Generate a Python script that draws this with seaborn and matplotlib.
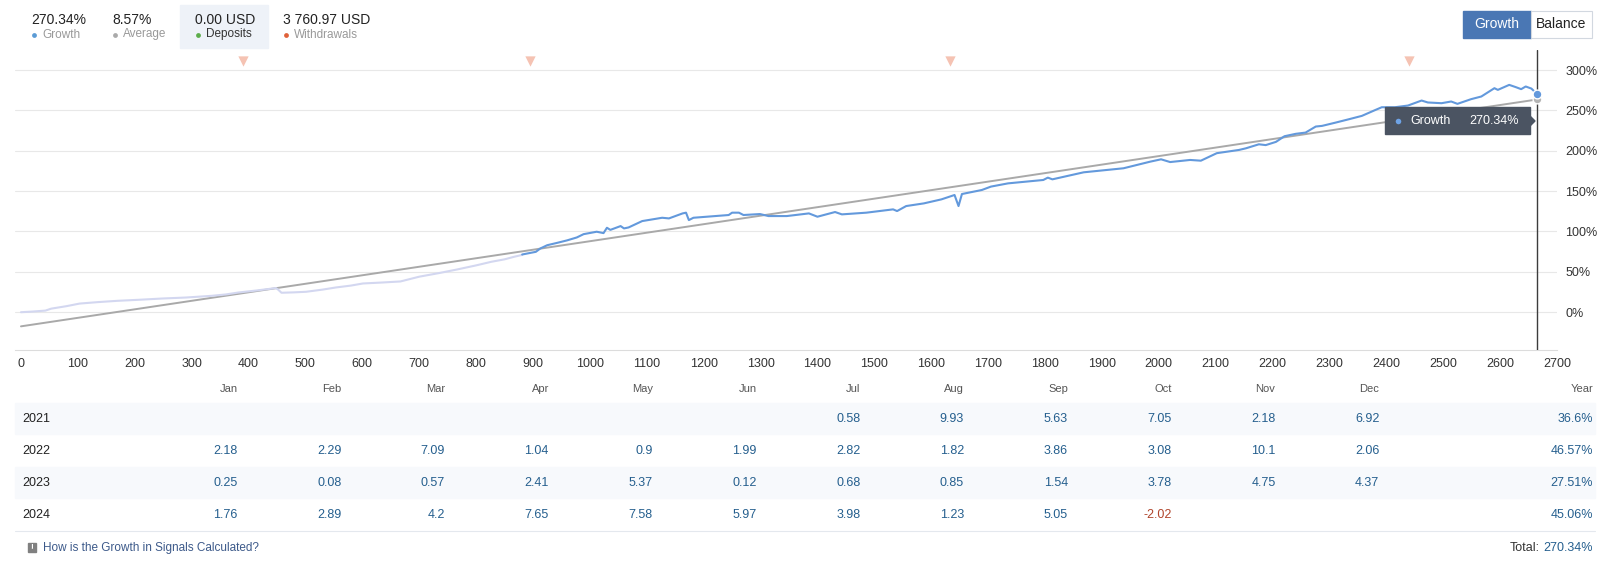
import numpy as np
import pandas as pd
import matplotlib
matplotlib.use("Agg")
import matplotlib.pyplot as plt
import seaborn as sns
from matplotlib.patches import Rectangle, Polygon
from matplotlib.transforms import blended_transform_factory

# ---------------- data ----------------
early_x = [0, 20, 43, 53, 80, 103, 135, 169, 210, 249, 290, 335, 360, 382, 415, 448, 452, 458,
           480, 501, 530, 554, 580, 601, 635, 667, 700, 735, 767, 800, 827, 850, 867, 881]
early_y = [0.0, 0.8, 2.0, 4.4, 7.5, 10.7, 12.5, 14.1, 15.5, 17.0, 18.2, 20.3, 22.0, 24.4, 27.0, 29.9, 28.0, 24.1,
           24.6, 25.3, 28.0, 30.7, 33.0, 35.6, 36.8, 38.1, 44.0, 48.5, 53.0, 58.0, 62.5, 65.5, 68.7, 71.0]

growth_x = [881, 905, 913, 925, 943, 960, 977, 989, 1012, 1024, 1030, 1036, 1054, 1060, 1068, 1092,
            1127, 1139, 1163, 1169, 1174, 1182, 1244, 1250, 1262, 1270, 1299, 1314, 1346, 1385, 1400,
            1431, 1443, 1486, 1533, 1540, 1556, 1587, 1618, 1641, 1648, 1654, 1689, 1705, 1735, 1797,
            1805, 1813, 1868, 1938, 1985, 2004, 2020, 2055, 2074, 2102, 2141, 2153, 2176, 2188, 2206,
            2221, 2241, 2258, 2276, 2287, 2311, 2334, 2357, 2381, 2392, 2415, 2438, 2462, 2473, 2497,
            2514, 2525, 2549, 2567, 2590, 2596, 2616, 2628, 2637, 2645, 2655, 2665]
growth_y = [71.5, 74.8, 79.0, 83.0, 86.0, 89.0, 92.6, 96.7, 99.7, 98.0, 104.6, 102.0, 106.7, 103.8, 105.0, 112.9,
            117.0, 116.2, 122.4, 123.3, 114.1, 117.0, 120.4, 123.3, 123.3, 120.4, 121.6, 119.1, 119.1, 122.4, 118.3,
            124.1, 121.2, 123.3, 127.4, 125.3, 131.5, 134.8, 139.8, 145.2, 131.5, 146.4, 151.4, 155.6, 159.6, 163.8,
            166.7, 164.6, 173.3, 178.3, 186.5, 189.4, 186.0, 188.6, 187.7, 197.0, 201.0, 203.0, 208.0, 207.0, 211.0,
            218.0, 221.0, 222.5, 230.0, 230.8, 234.9, 239.0, 243.2, 250.6, 253.9, 253.9, 256.0, 262.2, 259.8, 258.9,
            261.0, 258.1, 263.9, 267.2, 277.5, 275.4, 281.6, 278.7, 276.3, 279.6, 277.0, 270.34]

average_x = [0, 2665]
average_y = [-17.5, 263.5]

withdrawal_x = [390, 894, 1633, 2440]

x_ticks = list(range(0, 2800, 100))
y_ticks = [0, 50, 100, 150, 200, 250, 300]
y_tick_labels = [f"{v}%" for v in y_ticks]

header_values = ["270.34%", "8.57%", "0.00 USD", "3 760.97 USD"]
header_labels = ["Growth", "Average", "Deposits", "Withdrawals"]

months = ["Jan", "Feb", "Mar", "Apr", "May", "Jun", "Jul", "Aug", "Sep", "Oct", "Nov", "Dec"]
years = ["2021", "2022", "2023", "2024"]
vals_2021 = [None, None, None, None, None, None, 0.58, 9.93, 5.63, 7.05, 2.18, 6.92]
vals_2022 = [2.18, 2.29, 7.09, 1.04, 0.9, 1.99, 2.82, 1.82, 3.86, 3.08, 10.1, 2.06]
vals_2023 = [0.25, 0.08, 0.57, 2.41, 5.37, 0.12, 0.68, 0.85, 1.54, 3.78, 4.75, 4.37]
vals_2024 = [1.76, 2.89, 4.2, 7.65, 7.58, 5.97, 3.98, 1.23, 5.05, -2.02, None, None]
year_totals = ["36.6%", "46.57%", "27.51%", "45.06%"]
total_label = "270.34%"

# ---------------- style ----------------
sns.set_theme(style="white")
plt.rcParams['font.family'] = ['Liberation Sans', 'DejaVu Sans']

BLUE = "#6399dc"
LIGHT = "#d3d7f0"
GRAY = "#a9a9a9"
GRID = "#e8e8e8"
TXT = "#333333"
VAL = "#255f8e"
NEG = "#b0442b"

W, H = 1605, 567
fig = plt.figure(figsize=(W / 100, H / 100), dpi=100)

# main chart axes (pixel box: x 15..1557, y 50..350)
ax = fig.add_axes([15 / W, 1 - 350 / H, (1557 - 15) / W, 300 / H])
df_early = pd.DataFrame({"x": early_x, "growth": early_y})
df_growth = pd.DataFrame({"x": growth_x, "growth": growth_y})
df_avg = pd.DataFrame({"x": average_x, "avg": average_y})

sns.lineplot(data=df_early, x="x", y="growth", ax=ax, color=LIGHT, linewidth=1.5, zorder=3)
sns.lineplot(data=df_avg, x="x", y="avg", ax=ax, color=GRAY, linewidth=1.4, zorder=2)
sns.lineplot(data=df_growth, x="x", y="growth", ax=ax, color=BLUE, linewidth=1.5, zorder=4)

ax.set_xlim(-10.5, 2691)
ax.set_ylim(-46.8, 324.8)
ax.set_xticks(x_ticks)
ax.set_xticklabels([str(t) for t in x_ticks])
ax.set_yticks(y_ticks)
ax.set_yticklabels(y_tick_labels)
ax.yaxis.tick_right()
ax.tick_params(axis="x", length=0, pad=6, labelsize=9, labelcolor=TXT)
ax.tick_params(axis="y", length=0, pad=6, labelsize=9, labelcolor=TXT)
ax.set_xlabel("")
ax.set_ylabel("")
ax.grid(axis="y", color=GRID, linewidth=0.8)
ax.grid(axis="x", visible=False)
for s in ["top", "left", "right"]:
    ax.spines[s].set_visible(False)
ax.spines["bottom"].set_color("#dcdcdc")
ax.spines["bottom"].set_linewidth(0.8)

# withdrawal markers
trans = blended_transform_factory(ax.transData, ax.transAxes)
ax.scatter(withdrawal_x, [0.963] * len(withdrawal_x), marker="v", s=55, color="#f5c3b3",
           transform=trans, clip_on=False, zorder=5, linewidths=0)

# cursor line and end points
ax.axvline(growth_x[-1], color="#3c3c3c", linewidth=1.0, zorder=6)
ax.scatter([average_x[-1]], [average_y[-1]], s=40, color="#b4b4b4", edgecolor="white", linewidth=1, zorder=7)
ax.scatter([growth_x[-1]], [growth_y[-1]], s=40, color=BLUE, edgecolor="white", linewidth=1, zorder=8)

# overlay in pixel coordinates
ov = fig.add_axes([0, 0, 1, 1])
ov.set_xlim(0, W)
ov.set_ylim(H, 0)
ov.axis("off")
ov.patch.set_alpha(0)

# header
ov.add_patch(Rectangle((180, 5), 88, 43, color="#eef2f8", zorder=1))
hx = [31, 112, 195, 283]
dot_colors = ["#5b9bd5", "#aaaaaa", "#5cad4a", "#e0623a"]
lab_colors = ["#999999", "#999999", "#333333", "#999999"]
for x, v, l, dc, lc in zip(hx, header_values, header_labels, dot_colors, lab_colors):
    ov.text(x, 20.5, v, fontsize=10, color="#222222", ha="left", va="center", zorder=3)
    ov.scatter([x + 3], [34.5], s=12, color=dc, zorder=3, linewidths=0)
    ov.text(x + 11, 34.5, l, fontsize=8.5, color=lc, ha="left", va="center", zorder=3)

# buttons
ov.add_patch(Rectangle((1463, 11), 68, 27, facecolor="#4a77b4", edgecolor="#4a77b4", zorder=2))
ov.add_patch(Rectangle((1531, 11), 61, 27, facecolor="white", edgecolor="#d2d8e0", linewidth=0.8, zorder=2))
ov.text(1497, 24.5, "Growth", fontsize=10, color="white", ha="center", va="center", zorder=3)
ov.text(1561.5, 24.5, "Balance", fontsize=10, color="#222222", ha="center", va="center", zorder=3)

# tooltip
ov.add_patch(Rectangle((1385, 107), 145, 27, color="#4b5462", zorder=10))
ov.add_patch(Polygon([(1530, 116), (1535, 121), (1530, 126)], closed=True, color="#4b5462", zorder=10))
ov.scatter([1398], [120.5], s=16, color="#6ea3e6", zorder=11, linewidths=0)
ov.text(1410, 120.5, "Growth", fontsize=9, color="white", ha="left", va="center", zorder=11)
ov.text(1519, 120.5, "270.34%", fontsize=9, color="white", ha="right", va="center", zorder=11)

# table
col_x = [237.5 + 103.8 * i for i in range(12)]
year_x = 1593
ov.add_patch(Rectangle((15, 403), 1580, 31, color="#f7f9fc", zorder=1))
ov.add_patch(Rectangle((15, 467), 1580, 31, color="#f7f9fc", zorder=1))
for cx, m in zip(col_x, months):
    ov.text(cx, 389, m, fontsize=8, color="#555555", ha="right", va="center")
ov.text(year_x, 389, "Year", fontsize=8, color="#555555", ha="right", va="center")
row_y = [419, 451, 483, 515]
for ry, yr, vals, tot in zip(row_y, years, [vals_2021, vals_2022, vals_2023, vals_2024], year_totals):
    ov.text(22, ry, yr, fontsize=9, color="#222222", ha="left", va="center", zorder=3)
    for cx, v in zip(col_x, vals):
        if v is None:
            continue
        ov.text(cx, ry, str(v), fontsize=9, color=NEG if v < 0 else VAL, ha="right", va="center", zorder=3)
    ov.text(year_x, ry, tot, fontsize=9, color=VAL, ha="right", va="center", zorder=3)
ov.plot([15, 1595], [531, 531], color="#e4e8ee", linewidth=0.8)

# footer
ov.add_patch(Rectangle((28, 543), 8, 9, color="#808080", zorder=3))
ov.text(32, 547.5, "!", fontsize=6, color="white", ha="center", va="center", fontweight="bold", zorder=4)
ov.text(43, 548, "How is the Growth in Signals Calculated?", fontsize=8.5, color="#3d5a8a", ha="left", va="center")
tot_txt = ov.text(year_x, 548, total_label, fontsize=9, color=VAL, ha="right", va="center")
fig.canvas.draw()
bb = tot_txt.get_window_extent(renderer=fig.canvas.get_renderer())
num_left_px = bb.x0  # display pixels (same as figure pixels at dpi 100)
ov.text(num_left_px - 4, 548, "Total:", fontsize=9, color="#333333", ha="right", va="center")

fig.savefig("out.png", dpi=100, facecolor="white")
